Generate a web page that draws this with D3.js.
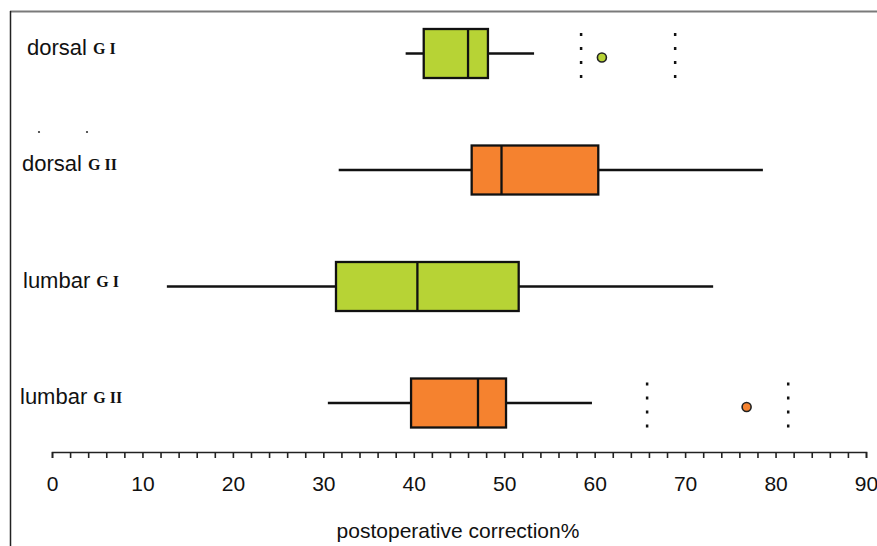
<!DOCTYPE html>
<meta charset="utf-8">
<head>
  <style>
    body { margin: 0; background: #fff; }
    .lab { font: 22px "Liberation Sans", Arial, sans-serif; fill: #111; }
    .grp { font: bold 16px "Liberation Serif", "Times New Roman", serif; fill: #111; }
    .tick text { font: 21px "Liberation Sans", Arial, sans-serif; fill: #111; }
  </style>
</head>
<body>
<svg width="877" height="546"></svg>
<script src="https://d3js.org/d3.v7.min.js"></script>
<script>
  // groups, top to bottom
  var names = ["dorsal", "dorsal", "lumbar", "lumbar"];
  var groups = ["G I", "G II", "G I", "G II"];
  var colors = ["#b7d335", "#f5822f", "#b7d335", "#f5822f"];
  // five-number summaries
  var whiskLo = [39.1, 31.7, 12.7, 30.5];
  var q1 = [41.1, 46.4, 31.4, 39.7];
  var median = [46.0, 49.7, 40.4, 47.1];
  var q3 = [48.2, 60.4, 51.6, 50.2];
  var whiskHi = [53.3, 78.6, 73.1, 59.7];
  // outliers and fences (dotted)
  var outliers = [[60.8], [], [], [76.8]];
  var fences = [[58.5, 68.9], [], [], [65.8, 81.4]];
  var xTicks = [0, 10, 20, 30, 40, 50, 60, 70, 80, 90];

  var svg = d3.select("svg");

  // frame
  svg.append("line").attr("x1", 10).attr("x2", 877).attr("y1", 11.5).attr("y2", 11.5)
    .attr("stroke", "#7a7a7a").attr("stroke-width", 2);
  svg.append("line").attr("x1", 10.5).attr("x2", 10.5).attr("y1", 11).attr("y2", 546)
    .attr("stroke", "#222").attr("stroke-width", 1.5);

  var x = d3.scaleLinear().domain([0, 90]).range([52, 866]);
  var y = d3.scalePoint().domain(d3.range(4)).range([53.5, 403]);
  var bw = 49;

  // axis
  var axis = d3.axisBottom(x).tickValues(d3.range(0, 91, 2)).tickSize(6)
    .tickFormat(function(d) { return xTicks.indexOf(d) >= 0 ? d : ""; });
  var ag = svg.append("g").attr("transform", "translate(0,452)").call(axis);
  ag.select(".domain").attr("stroke", "#222").attr("stroke-width", 1.6);
  ag.selectAll(".tick line").attr("stroke", "#222").attr("stroke-width", 1.6);
  ag.selectAll(".tick text").attr("dy", null).attr("y", 39);

  svg.append("text").attr("class", "lab").attr("x", 458).attr("y", 538)
    .attr("text-anchor", "middle").style("font-size", "21px").text("postoperative correction%");

  var g = svg.selectAll(".box").data(d3.range(4)).enter().append("g")
    .attr("transform", function(i) { return "translate(0," + (y(i) - bw / 2) + ")"; });

  g.append("line")
    .attr("x1", function(i) { return x(whiskLo[i]); })
    .attr("x2", function(i) { return x(whiskHi[i]); })
    .attr("y1", bw / 2).attr("y2", bw / 2)
    .attr("stroke", "#111").attr("stroke-width", 2.3);

  g.append("rect")
    .attr("x", function(i) { return x(q1[i]); })
    .attr("width", function(i) { return x(q3[i]) - x(q1[i]); })
    .attr("y", 0).attr("height", bw)
    .attr("fill", function(i) { return colors[i]; })
    .attr("stroke", "#111").attr("stroke-width", 2.3);

  g.append("line")
    .attr("x1", function(i) { return x(median[i]); })
    .attr("x2", function(i) { return x(median[i]); })
    .attr("y1", 0).attr("y2", bw)
    .attr("stroke", "#111").attr("stroke-width", 2.3);

  g.each(function(i) {
    var el = d3.select(this);
    el.selectAll(".fence").data(fences[i]).enter().append("line")
      .attr("x1", function(d) { return x(d); }).attr("x2", function(d) { return x(d); })
      .attr("y1", 4).attr("y2", bw + 2)
      .attr("stroke", "#111").attr("stroke-width", 2.5).attr("stroke-dasharray", "3,11");
    el.selectAll(".out").data(outliers[i]).enter().append("circle")
      .attr("cx", function(d) { return x(d); }).attr("cy", bw / 2 + 4).attr("r", 4.5)
      .attr("fill", colors[i]).attr("stroke", "#222").attr("stroke-width", 1.6);
  });

  // labels
  var labX = [27, 22, 23, 20];
  var lab = svg.selectAll(".rowlab").data(d3.range(4)).enter().append("text")
    .attr("class", "lab")
    .attr("x", function(i) { return labX[i]; })
    .attr("y", function(i) { return y(i) + 1; });
  lab.append("tspan").text(function(i) { return names[i] + " "; });
  lab.append("tspan").attr("class", "grp").attr("dy", -1).text(function(i) { return groups[i]; });

  // stray marks
  svg.selectAll(".dot").data([39, 87]).enter().append("circle")
    .attr("cx", function(d) { return d; }).attr("cy", 132).attr("r", 1.1).attr("fill", "#333");
</script>
</body>
</html>
